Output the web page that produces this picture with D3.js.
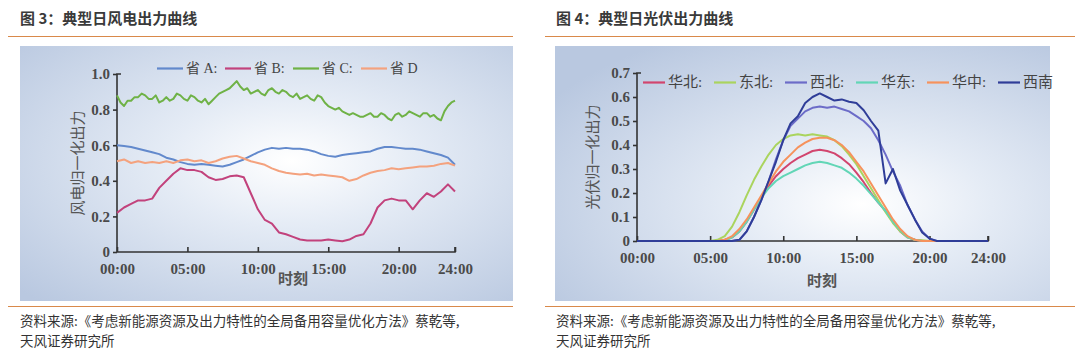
<!DOCTYPE html>
<html><head><meta charset="utf-8">
<script src="https://cdn.jsdelivr.net/npm/d3@7"></script>
<style>
html,body{margin:0;padding:0;background:#fff;}
svg{display:block;}
</style></head>
<body>
<svg id="c" width="1080" height="357"></svg>
<script>
// ---------- data ----------
const xTicks = [0, 5, 10, 15, 20, 24];
const xTickLabels = ["00:00", "05:00", "10:00", "15:00", "20:00", "24:00"];

// wind (figure 3) — samples evenly spaced over 00:00..24:00
const windNames = ["省 A:", "省 B:", "省 C:", "省 D"];
const windA = [0.60,0.595,0.59,0.58,0.57,0.56,0.55,0.53,0.52,0.505,0.495,0.49,0.495,0.49,0.485,0.48,0.49,0.505,0.52,0.54,0.56,0.575,0.585,0.58,0.585,0.58,0.58,0.575,0.565,0.55,0.54,0.535,0.545,0.55,0.555,0.56,0.565,0.58,0.59,0.59,0.585,0.58,0.58,0.575,0.565,0.555,0.545,0.53,0.49];
const windB = [0.22,0.25,0.27,0.29,0.29,0.30,0.36,0.40,0.44,0.47,0.46,0.46,0.45,0.42,0.405,0.41,0.425,0.43,0.42,0.33,0.24,0.18,0.16,0.11,0.10,0.085,0.07,0.065,0.065,0.065,0.07,0.065,0.06,0.07,0.09,0.10,0.16,0.25,0.29,0.30,0.29,0.29,0.24,0.29,0.33,0.31,0.34,0.38,0.34];
const windC = [0.88,0.84,0.82,0.85,0.85,0.87,0.87,0.89,0.88,0.86,0.86,0.88,0.84,0.85,0.87,0.85,0.86,0.89,0.88,0.86,0.85,0.88,0.87,0.85,0.84,0.86,0.83,0.85,0.87,0.89,0.90,0.91,0.92,0.94,0.96,0.93,0.91,0.92,0.89,0.90,0.91,0.89,0.88,0.91,0.92,0.90,0.89,0.91,0.90,0.88,0.87,0.89,0.86,0.87,0.88,0.86,0.85,0.88,0.87,0.84,0.82,0.81,0.80,0.81,0.79,0.78,0.77,0.78,0.77,0.76,0.76,0.77,0.78,0.76,0.76,0.78,0.77,0.75,0.74,0.77,0.78,0.76,0.77,0.79,0.78,0.77,0.76,0.78,0.78,0.76,0.77,0.75,0.74,0.79,0.82,0.84,0.85];
const windD = [0.51,0.52,0.50,0.51,0.50,0.505,0.50,0.51,0.50,0.515,0.52,0.51,0.515,0.50,0.51,0.525,0.535,0.54,0.525,0.51,0.50,0.49,0.47,0.455,0.445,0.44,0.435,0.44,0.43,0.435,0.43,0.425,0.42,0.40,0.41,0.43,0.445,0.455,0.46,0.47,0.465,0.47,0.475,0.48,0.48,0.485,0.495,0.50,0.485];
const windYTicks = [0, 0.2, 0.4, 0.6, 0.8, 1.0];
const windYTickLabels = ["0", "0.2", "0.4", "0.6", "0.8", "1.0"];

// solar (figure 4) — half-hour samples 00:00..24:00
const solarNames = ["华北:", "东北:", "西北:", "华东:", "华中:", "西南"];
const solarHuabei  = [0,0,0,0,0,0,0,0,0,0,0,0,0.005,0.015,0.04,0.08,0.13,0.18,0.23,0.27,0.30,0.325,0.345,0.36,0.375,0.38,0.375,0.365,0.345,0.32,0.285,0.245,0.20,0.16,0.125,0.08,0.04,0.015,0.005,0,0,0,0,0,0,0,0,0,0];
const solarDongbei = [0,0,0,0,0,0,0,0,0,0,0,0.005,0.02,0.06,0.12,0.19,0.255,0.31,0.36,0.40,0.425,0.44,0.445,0.44,0.445,0.44,0.435,0.42,0.395,0.36,0.32,0.27,0.22,0.17,0.12,0.075,0.04,0.015,0.005,0.003,0,0,0,0,0,0,0,0,0];
const solarXibei   = [0,0,0,0,0,0,0,0,0,0,0,0,0,0,0.005,0.04,0.10,0.17,0.25,0.34,0.42,0.48,0.51,0.54,0.555,0.56,0.555,0.56,0.55,0.54,0.52,0.50,0.47,0.42,0.36,0.29,0.23,0.15,0.09,0.04,0.01,0,0,0,0,0,0,0,0];
const solarHuadong = [0,0,0,0,0,0,0,0,0,0,0,0,0,0.015,0.04,0.08,0.13,0.18,0.22,0.25,0.27,0.285,0.30,0.315,0.325,0.33,0.325,0.315,0.305,0.285,0.26,0.23,0.195,0.16,0.125,0.08,0.045,0.015,0.005,0,0,0,0,0,0,0,0,0,0];
const solarHuazhong= [0,0,0,0,0,0,0,0,0,0,0,0,0.005,0.02,0.05,0.09,0.14,0.19,0.24,0.29,0.33,0.36,0.39,0.41,0.425,0.43,0.43,0.42,0.40,0.37,0.33,0.29,0.24,0.19,0.14,0.09,0.05,0.02,0.005,0,0,0,0,0,0,0,0,0,0];
const solarXinan   = [0,0,0,0,0,0,0,0,0,0,0,0,0,0,0.005,0.04,0.10,0.17,0.25,0.33,0.42,0.49,0.52,0.575,0.60,0.615,0.60,0.585,0.59,0.58,0.575,0.545,0.50,0.46,0.24,0.30,0.21,0.15,0.09,0.035,0.01,0,0,0,0,0,0,0,0];
const solarYTicks = [0, 0.1, 0.2, 0.3, 0.4, 0.5, 0.6, 0.7];
const solarYTickLabels = ["0", "0.1", "0.2", "0.3", "0.4", "0.5", "0.6", "0.7"];

// ---------- drawing ----------
const svg = d3.select("#c");
const defs = svg.append("defs");
const SERIF = "'Liberation Serif','Noto Sans CJK SC',serif";
const SANS = "'Noto Sans CJK SC','Noto Sans',sans-serif";

function gradient(id, cx, cy) {
  const g = defs.append("radialGradient").attr("id", id)
    .attr("cx", cx).attr("cy", cy).attr("r", "0.75").attr("fx", cx).attr("fy", cy);
  g.append("stop").attr("offset", "0").attr("stop-color", "#ffffff");
  g.append("stop").attr("offset", "0.35").attr("stop-color", "#e4ebf5");
  g.append("stop").attr("offset", "1").attr("stop-color", "#b9c8e0");
}
gradient("g1", "0.55", "0.45");
gradient("g2", "0.62", "0.62");

function panel(cfg) {
  const g = svg.append("g");
  g.append("text").attr("x", cfg.titleX).attr("y", 24)
    .attr("font-family", SANS).attr("font-weight", "bold").attr("font-size", 15)
    .attr("fill", "#3a3a3a").text(cfg.title);
  g.append("line").attr("x1", cfg.ruleX1).attr("x2", cfg.ruleX2).attr("y1", 36.5).attr("y2", 36.5)
    .attr("stroke", "#d9894a").attr("stroke-width", 1);
  g.append("rect").attr("x", cfg.box[0]).attr("y", cfg.box[1]).attr("width", cfg.box[2]).attr("height", cfg.box[3])
    .attr("fill", `url(#${cfg.grad})`);
  g.append("line").attr("x1", cfg.ruleX1).attr("x2", cfg.ruleX2).attr("y1", 306.5).attr("y2", 306.5)
    .attr("stroke", "#d9894a").attr("stroke-width", 1);
  g.append("text").attr("x", cfg.titleX).attr("y", 326).attr("font-family", SANS).attr("font-size", 13.5)
    .attr("fill", "#333").text("资料来源:《考虑新能源资源及出力特性的全局备用容量优化方法》蔡乾等,");
  g.append("text").attr("x", cfg.titleX).attr("y", 346).attr("font-family", SANS).attr("font-size", 13.5)
    .attr("fill", "#333").text("天风证券研究所");

  const x = d3.scaleLinear().domain([0, 24]).range([cfg.x0, cfg.x1]);
  const y = d3.scaleLinear().domain([0, cfg.yMax]).range([cfg.y0, cfg.y1]);

  const ya = g.append("g").attr("transform", `translate(${cfg.x0},0)`)
    .call(d3.axisLeft(y).tickValues(cfg.yTicks).tickFormat((d, i) => cfg.yLabels[i]).tickSize(4).tickPadding(3));
  const xa = g.append("g").attr("transform", `translate(0,${cfg.y0})`)
    .call(d3.axisBottom(x).tickValues(xTicks).tickFormat((d, i) => xTickLabels[i]).tickSize(-5).tickPadding(8));
  [ya, xa].forEach(a => {
    a.select(".domain").attr("stroke", "#333").attr("stroke-width", 1.6);
    a.selectAll(".tick line").attr("stroke", "#333").attr("stroke-width", 1.6);
    a.selectAll("text").attr("font-family", SERIF).attr("font-size", 15).attr("font-weight", "bold").attr("fill", "#4a4a4a");
  });
  xa.selectAll("text").attr("dy", "0.9em");
  ya.select(".domain").attr("d", `M4,${cfg.y1}H0V${cfg.y0}`);
  xa.select(".domain").attr("d", `M${cfg.x0},0H${cfg.x1}V-5`);

  g.append("text").attr("transform", `translate(${cfg.yTitleX},${(cfg.y0 + cfg.y1) / 2}) rotate(-90)`)
    .attr("text-anchor", "middle").attr("dominant-baseline", "middle")
    .attr("font-family", SERIF).attr("font-size", 15).attr("fill", "#555").text(cfg.yTitle);
  g.append("text").attr("x", cfg.xTitleX).attr("y", cfg.xTitleY).attr("text-anchor", "middle")
    .attr("font-family", SERIF).attr("font-size", 15).attr("font-weight", "bold").attr("fill", "#555").text("时刻");

  cfg.series.forEach((s, k) => {
    const line = d3.line().x((d, i) => x(i * 24 / (s.length - 1))).y(d => y(d));
    g.append("path").attr("d", line(s)).attr("fill", "none")
      .attr("stroke", cfg.colors[k]).attr("stroke-width", 2).attr("stroke-linejoin", "round");
  });

  cfg.names.forEach((n, k) => {
    const lx = cfg.legX + k * cfg.legStep;
    g.append("line").attr("x1", lx).attr("x2", lx + cfg.legLine).attr("y1", cfg.legY - 4.5).attr("y2", cfg.legY - 4.5)
      .attr("stroke", cfg.colors[k]).attr("stroke-width", 2.2);
    g.append("text").attr("x", lx + cfg.legLine + 3).attr("y", cfg.legY)
      .attr("font-family", SERIF).attr("font-size", cfg.legFont).attr("fill", "#444").text(n);
  });
}

panel({
  title: "图 3：典型日风电出力曲线", titleX: 20, ruleX1: 8, ruleX2: 513, box: [20, 46, 493, 255], grad: "g1",
  x0: 117, x1: 455, y0: 252, y1: 74, yMax: 1.0, yTicks: windYTicks, yLabels: windYTickLabels,
  yTitle: "风电归一化出力", yTitleX: 80, xTitleX: 293, xTitleY: 284,
  series: [windA, windB, windC, windD], names: windNames,
  colors: ["#6289cc", "#c2427c", "#6fb246", "#f4a27e"],
  legX: 157, legY: 73, legLine: 26, legStep: 68, legFont: 14
});

panel({
  title: "图 4：典型日光伏出力曲线", titleX: 556, ruleX1: 545, ruleX2: 1075, box: [555, 46, 495, 255], grad: "g2",
  x0: 637, x1: 988, y0: 241, y1: 73, yMax: 0.7, yTicks: solarYTicks, yLabels: solarYTickLabels,
  yTitle: "光伏归一化出力", yTitleX: 595, xTitleX: 822, xTitleY: 286,
  series: [solarHuabei, solarDongbei, solarXibei, solarHuadong, solarHuazhong, solarXinan], names: solarNames,
  colors: ["#d2456e", "#aad45e", "#6c6cc8", "#62d6b6", "#f6925c", "#2f3d98"],
  legX: 643, legY: 87, legLine: 22, legStep: 71, legFont: 15
});
</script>
</body></html>
